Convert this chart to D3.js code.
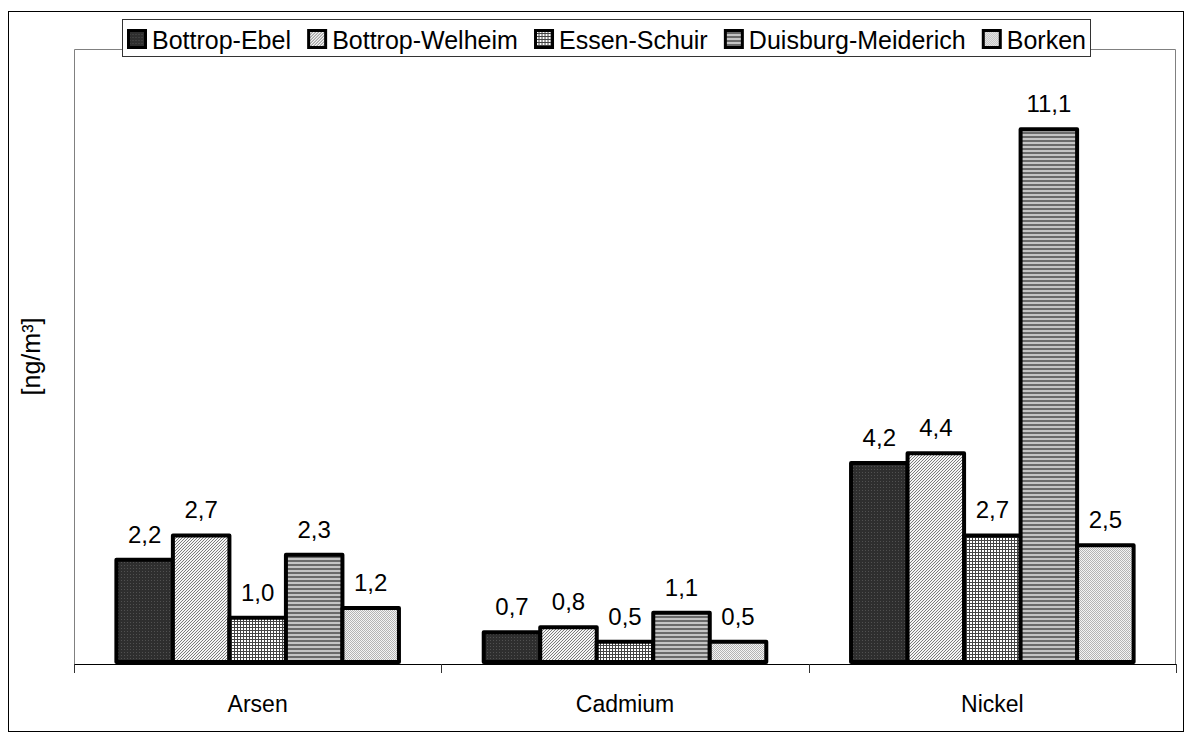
<!DOCTYPE html>
<html>
<head>
<meta charset="utf-8">
<script src="https://cdn.jsdelivr.net/npm/d3@7"></script>
<style>
  html, body { margin: 0; padding: 0; background: #fff; }
  svg { display: block; font-family: Arial, "Liberation Sans", sans-serif; }
</style>
</head>
<body>
<svg id="chart" width="1192" height="740"></svg>
<script>
const categories = ["Arsen", "Cadmium", "Nickel"];
const seriesNames = ["Bottrop-Ebel", "Bottrop-Welheim", "Essen-Schuir", "Duisburg-Meiderich", "Borken"];
const bottropEbel = [2.2, 0.7, 4.2];
const bottropWelheim = [2.7, 0.8, 4.4];
const essenSchuir = [1.0, 0.5, 2.7];
const duisburgMeiderich = [2.3, 1.1, 11.1];
const borken = [1.2, 0.5, 2.5];
const seriesValues = [bottropEbel, bottropWelheim, essenSchuir, duisburgMeiderich, borken];
const yAxisLabel = "[ng/m³]";
const yMax = 12.72;

const svg = d3.select("#chart");
const defs = svg.append("defs");

function pat(id, w, h, build) {
  const p = defs.append("pattern").attr("id", id).attr("patternUnits", "userSpaceOnUse")
    .attr("width", w).attr("height", h);
  build(p);
}
pat("p0", 3, 3, p => {
  p.append("rect").attr("width", 3).attr("height", 3).attr("fill", "#2e2e2e");
  p.append("rect").attr("x", 1).attr("y", 1).attr("width", 1).attr("height", 1).attr("fill", "#505050");
});
pat("p1", 3, 3, p => {
  p.append("rect").attr("width", 3).attr("height", 3).attr("fill", "#f4f4f4");
  p.append("path").attr("d", "M-1,1 L1,-1 M0,3 L3,0 M2,4 L4,2").attr("stroke", "#7a7a7a").attr("stroke-width", 1);
});
pat("p2", 3, 3, p => {
  p.append("rect").attr("width", 3).attr("height", 3).attr("fill", "#fff");
  p.append("rect").attr("width", 3).attr("height", 1).attr("fill", "#444");
  p.append("rect").attr("width", 1).attr("height", 3).attr("fill", "#444");
});
pat("p3", 4, 4, p => {
  p.append("rect").attr("width", 4).attr("height", 4).attr("fill", "#c4c4c4");
  p.append("rect").attr("y", 0).attr("width", 4).attr("height", 2).attr("fill", "#6a6a6a");
});
pat("p4", 2, 2, p => {
  p.append("rect").attr("width", 2).attr("height", 2).attr("fill", "#f4f4f4");
  p.append("rect").attr("width", 1).attr("height", 1).attr("fill", "#b4b4b4");
  p.append("rect").attr("x", 1).attr("y", 1).attr("width", 1).attr("height", 1).attr("fill", "#b4b4b4");
});
const fills = ["url(#p0)", "url(#p1)", "url(#p2)", "url(#p3)", "url(#p4)"];

// outer border
svg.append("rect").attr("x", 8.5).attr("y", 11.5).attr("width", 1175).attr("height", 720)
  .attr("fill", "#fff").attr("stroke", "#000").attr("stroke-width", 1);

const plot = { left: 74, right: 1176, top: 49, bottom: 664 };

svg.append("path")
  .attr("d", `M${plot.left + 0.5},${plot.bottom} V${plot.top + 0.5} H${plot.right - 0.5} V${plot.bottom}`)
  .attr("fill", "none").attr("stroke", "#808080").attr("stroke-width", 1);

const x0 = d3.scaleBand().domain(categories).range([plot.left, plot.right]).paddingInner(0).paddingOuter(0);
const barW = x0.bandwidth() / 6.5; // gap width 150%
const y = d3.scaleLinear().domain([0, yMax]).range([plot.bottom, plot.top]);

// x axis
const axisG = svg.append("g");
axisG.append("line").attr("x1", plot.left).attr("x2", plot.right).attr("y1", plot.bottom + 0.5).attr("y2", plot.bottom + 0.5)
  .attr("stroke", "#000").attr("stroke-width", 1);
const boundaries = categories.map(c => x0(c)).concat([x0(categories[categories.length - 1]) + x0.bandwidth()]);
axisG.selectAll(".tick").data(boundaries).enter().append("line")
  .attr("x1", d => Math.round(d) + 0.5).attr("x2", d => Math.round(d) + 0.5)
  .attr("y1", plot.bottom).attr("y2", plot.bottom + 9)
  .attr("stroke", "#333").attr("stroke-width", 1);
axisG.selectAll(".cat").data(categories).enter().append("text")
  .attr("x", d => x0(d) + x0.bandwidth() / 2).attr("y", plot.bottom + 48)
  .attr("text-anchor", "middle").attr("font-size", 23).attr("fill", "#000").text(d => d);

// bars
const groups = svg.append("g");
seriesNames.forEach((s, si) => {
  const vals = seriesValues[si];
  categories.forEach((c, ci) => {
    const bx = x0(c) + 0.75 * barW + si * barW;
    const by = y(vals[ci]) + 2;
    groups.append("rect")
      .attr("x", bx).attr("y", by)
      .attr("width", barW).attr("height", plot.bottom - 2 - by)
      .attr("fill", fills[si]).attr("stroke", "#000").attr("stroke-width", 4)
      .attr("stroke-linejoin", "round");
  });
});
seriesNames.forEach((s, si) => {
  const vals = seriesValues[si];
  categories.forEach((c, ci) => {
    const bx = x0(c) + 0.75 * barW + si * barW;
    svg.append("text")
      .attr("x", bx + barW / 2).attr("y", y(vals[ci]) - 15)
      .attr("text-anchor", "middle").attr("font-size", 24).attr("fill", "#000")
      .text(d3.format(".1f")(vals[ci]).replace(".", ","));
  });
});

// y axis label
svg.append("text")
  .attr("transform", `translate(40,${(plot.top + plot.bottom) / 2}) rotate(-90)`)
  .attr("text-anchor", "middle").attr("font-size", 25).attr("fill", "#000").text(yAxisLabel);

// legend
const lg = svg.append("g");
lg.append("rect").attr("x", 122.5).attr("y", 19.5).attr("width", 968).attr("height", 37)
  .attr("fill", "#fff").attr("stroke", "#333").attr("stroke-width", 1);
const legStart = 127, legEnd = 1086, sqW = 19, txtOff = 25;
const items = seriesNames.map((s, i) => {
  const g = lg.append("g");
  g.append("rect").attr("x", 0).attr("y", 30.5).attr("width", sqW - 2).attr("height", sqW - 2)
    .attr("transform", "translate(1.5,0)")
    .attr("fill", fills[i]).attr("stroke", "#000").attr("stroke-width", 3);
  const t = g.append("text").attr("x", txtOff).attr("y", 49).attr("font-size", 25).attr("fill", "#000").text(s);
  return { g, w: txtOff + t.node().getComputedTextLength() };
});
const totalW = d3.sum(items, d => d.w);
const gap = (legEnd - legStart - totalW) / (items.length - 1);
let cx = legStart;
items.forEach(it => { it.g.attr("transform", `translate(${cx},0)`); cx += it.w + gap; });
</script>
</body>
</html>
